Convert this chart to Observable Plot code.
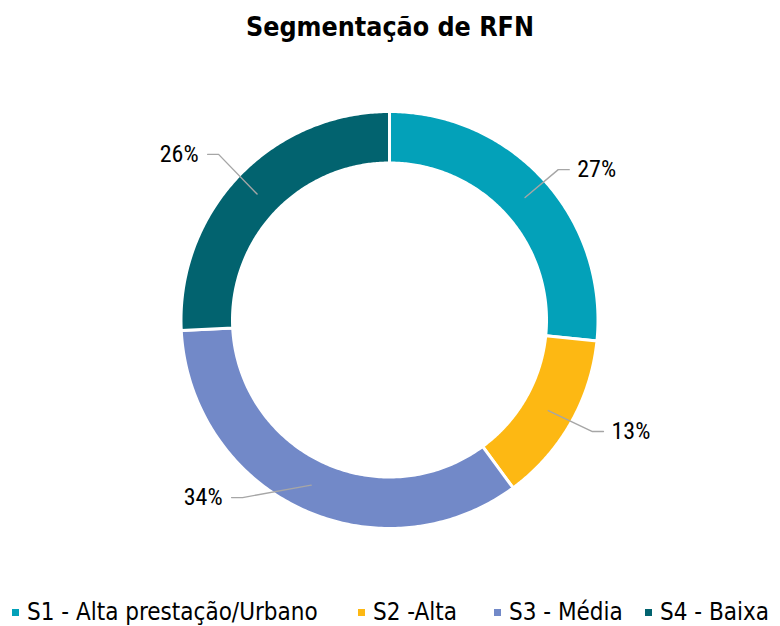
<!DOCTYPE html>
<html><head><meta charset="utf-8">
<script src="https://cdn.jsdelivr.net/npm/d3@7"></script>
<script src="https://cdn.jsdelivr.net/npm/@observablehq/plot@0.6"></script>
<style>
body{margin:0;background:#fff;width:780px;height:626px;overflow:hidden;position:relative;font-family:"DejaVu Sans Condensed","DejaVu Sans",sans-serif;color:#000}
#title{position:absolute;left:0;top:12px;width:780px;text-align:center;font-weight:bold;font-size:26.6px;line-height:30px}
#chart{position:absolute;left:0;top:50px}
#legend{position:absolute;left:0;top:598px;width:780px;height:28px;font-size:24px}
.item{position:absolute;top:0;height:28px;display:flex;align-items:center;white-space:nowrap}
.sw{width:7px;height:7px;margin-right:8px;flex:none}
</style></head><body>
<div id="title">Segmentação de RFN</div>
<div id="chart"></div>
<div id="legend"></div>
<script>
// ---- data ----
const segments = ["S1 - Alta prestação/Urbano", "S2 -Alta", "S3 - Média", "S4 - Baixa"];
const shares = [26.6, 13.3, 34.3, 25.8];
const labels = ["27%", "13%", "34%", "26%"];
const colors = ["#03a1b9", "#fdb813", "#7289c8", "#02636f"];

// ---- layout ----
const W = 780, H = 545, cx = 389, cy = 269.5;
const rOuter = 208.5, rInner = 157, gap = 3;
const elbow = [ {deg: 48.3, r: 226}, {deg: 118.8, r: 231.6}, {deg: 219.6, r: 230.5}, {deg: 314.1, r: 238} ];
const legendLeft = [12, 358, 494, 645];

const pie = d3.pie().sort(null).value(d => d)(shares);
const pt = (a, r) => ({x: r * Math.sin(a), y: -r * Math.cos(a)});

const ring = [];
pie.forEach((p, i) => {
  const n = 160;
  for (let k = 0; k <= n; k++) {
    const a = p.startAngle + (p.endAngle - p.startAngle) * k / n;
    ring.push({seg: segments[i], ...pt(a, rOuter)});
  }
  for (let k = n; k >= 0; k--) {
    const a = p.startAngle + (p.endAngle - p.startAngle) * k / n;
    ring.push({seg: segments[i], ...pt(a, rInner)});
  }
});

const leaders = [], texts = [];
pie.forEach((p, i) => {
  const mid = (p.startAngle + p.endAngle) / 2;
  const s = pt(mid, (rOuter + rInner) / 2);
  const e = pt(elbow[i].deg * Math.PI / 180, elbow[i].r);
  const right = e.x > 0;
  const end = {x: e.x + (right ? 11 : -11), y: e.y};
  [s, e, end].forEach(q => leaders.push({lab: labels[i], ...q}));
  texts.push({lab: labels[i], right, x: end.x + (right ? 8 : -9), y: end.y});
});

const labelFont = `"Liberation Sans Narrow","Roboto Condensed","Open Sans",sans-serif`;
const chart = Plot.plot({
  width: W, height: H,
  margin: 0,
  x: {domain: [-cx, W - cx], range: [0, W], axis: null},
  y: {domain: [-cy, H - cy], range: [0, H], axis: null},
  color: {domain: segments, range: colors},
  style: {background: "transparent", overflow: "visible"},
  marks: [
    Plot.line(ring, {x: "x", y: "y", z: "seg", fill: "seg", stroke: "white", strokeWidth: gap, curve: "linear-closed"}),
    Plot.line(leaders, {x: "x", y: "y", z: "lab", stroke: "#a6a6a6", strokeWidth: 1.4}),
    Plot.text(texts.filter(d => d.right), {x: "x", y: "y", text: "lab", textAnchor: "start", fontSize: 24, fontWeight: 400, fontFamily: labelFont, fill: "#000"}),
    Plot.text(texts.filter(d => !d.right), {x: "x", y: "y", text: "lab", textAnchor: "end", fontSize: 24, fontWeight: 400, fontFamily: labelFont, fill: "#000"})
  ]
});
document.getElementById("chart").appendChild(chart);

const leg = document.getElementById("legend");
segments.forEach((s, i) => {
  const it = document.createElement("div");
  it.className = "item";
  it.style.left = legendLeft[i] + "px";
  const sw = document.createElement("span");
  sw.className = "sw";
  sw.style.background = colors[i];
  const tx = document.createElement("span");
  tx.textContent = s;
  it.appendChild(sw); it.appendChild(tx);
  leg.appendChild(it);
});
</script>
</body></html>
